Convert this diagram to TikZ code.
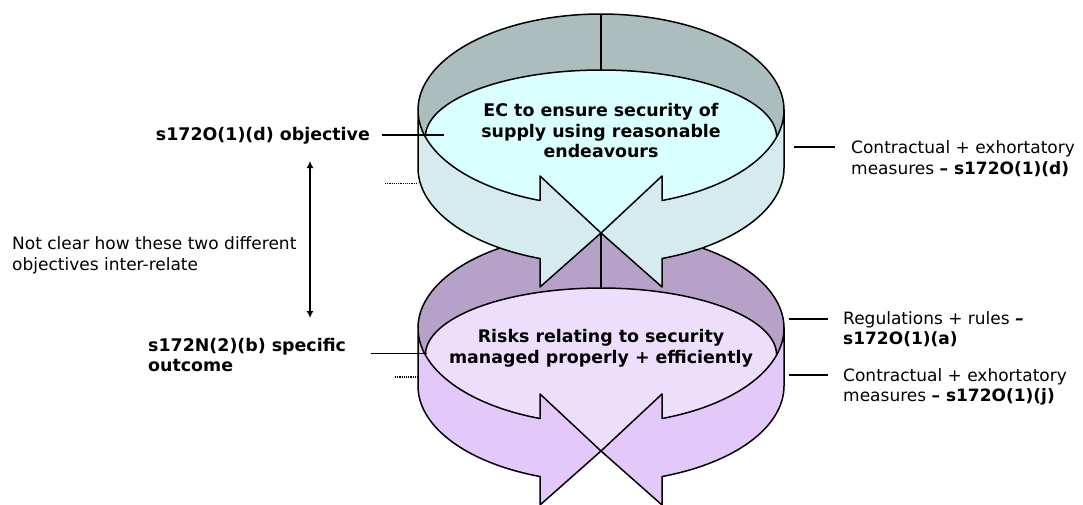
\documentclass[tikz,border=0pt]{standalone}
\usepackage{fontspec}
\setmainfont{DejaVu Sans}
\usetikzlibrary{arrows.meta}
\definecolor{faceA}{RGB}{172,189,190}
\definecolor{lensA}{RGB}{217,255,255}
\definecolor{bandA}{RGB}{214,235,237}
\definecolor{faceB}{RGB}{182,161,201}
\definecolor{lensB}{RGB}{237,223,252}
\definecolor{bandB}{RGB}{226,201,250}
\tikzset{
  ringline/.style={draw=black, line width=1.5pt, line join=round},
  leader/.style={draw=black, line width=1.2pt},
  dotline/.style={draw=black, line width=1.1pt, dash pattern=on 1.1pt off 1.1pt},
  lab/.style={inner sep=0pt, font=\fontsize{17}{20.5}\selectfont},
  labb/.style={inner sep=0pt, font=\fontsize{17.4}{20.5}\selectfont\bfseries},
}
% one ring: #1 vertical shift, #2 face colour, #3 lens colour, #4 band colour
\newcommand\myring[4]{%
\begin{scope}[shift={(0,#1)}]
  % top face
  \fill[#2] plot[domain=0:360, samples=120, variable=\t] ({601+183*cos(\t)},{110+96*sin(\t)}) -- cycle;
  \draw[ringline] plot[domain=180:360, samples=80, variable=\t] ({601+183*cos(\t)},{110+96*sin(\t)});
  % opening (lens) with the notch between the arrow heads
  \fill[#3] plot[domain=180:360, samples=80, variable=\t] ({601+175.6*cos(\t)},{137+67*sin(\t)})
     -- plot[domain=16.33:70.53, samples=30, variable=\t] ({601+183*cos(\t)},{110+96*sin(\t)})
     -- (662,176) -- (601,233) -- (540,176)
     -- plot[domain=109.47:163.67, samples=30, variable=\t] ({601+183*cos(\t)},{110+96*sin(\t)}) -- cycle;
  \draw[ringline] plot[domain=180:360, samples=80, variable=\t] ({601+175.6*cos(\t)},{137+67*sin(\t)});
  \draw[ringline, line width=1.8pt] (601,14) -- (601,70);
  % left arrow
  \filldraw[fill=#4, ringline] (418,110) -- (418,168)
     -- plot[domain=180:109.47, samples=40, variable=\t] ({601+183*cos(\t)},{168+96*sin(\t)})
     -- (540,287) -- (601,233) -- (540,176)
     -- plot[domain=109.47:180, samples=40, variable=\t] ({601+183*cos(\t)},{110+96*sin(\t)}) -- cycle;
  % right arrow
  \filldraw[fill=#4, ringline] (784,110) -- (784,168)
     -- plot[domain=0:70.53, samples=40, variable=\t] ({601+183*cos(\t)},{168+96*sin(\t)})
     -- (662,287) -- (601,233) -- (662,176)
     -- plot[domain=70.53:0, samples=40, variable=\t] ({601+183*cos(\t)},{110+96*sin(\t)}) -- cycle;
\end{scope}}
\begin{document}
\begin{tikzpicture}[x=1pt,y=-1pt]
\useasboundingbox (0,0) rectangle (1083,504);
\fill[white] (0,0) rectangle (1083,504);
\clip (0,0) rectangle (1083,504);

\myring{218}{faceB}{lensB}{bandB}
\myring{0}{faceA}{lensA}{bandA}

% centre texts
\node[labb, anchor=north, align=center] (ta) at (601,103.5) {EC to ensure security of\\supply using reasonable\\endeavours};
\node[labb, anchor=north, align=center] (tb) at (601,329.5) {Risks relating to security\\managed properly + efficiently};

% left labels
\node[labb, anchor=base east] (lo) at (370,140.5) {s172O(1)(d) objective};
\node[labb, anchor=north west, align=left] (ls) at (148,338) {s172N(2)(b) specific\\outcome};
\node[lab, anchor=north west, align=left] (nc) at (12,236.5) {Not clear how these two different\\objectives inter-relate};

% right labels
\node[lab, anchor=north west, align=left] (r1) at (851,140.5) {Contractual + exhortatory\\measures \textbf{– s172O(1)(d)}};
\node[lab, anchor=north west, align=left] (r2) at (843,311) {Regulations + rules \textbf{–}\\\textbf{s172O(1)(a)}};
\node[lab, anchor=north west, align=left] (r3) at (843,368) {Contractual + exhortatory\\measures \textbf{– s172O(1)(j)}};

% leader lines
\coordinate (l1a) at (382,135);
\coordinate (l1b) at (444,135);
\coordinate (l2a) at (371,353.5);
\coordinate (l2b) at (427,353.5);
\draw[leader] (l1a) -- (l1b);
\draw[leader] (l2a) -- (l2b);
\coordinate (r1a) at (794,147);
\coordinate (r2a) at (789,319);
\coordinate (r3a) at (789,375);
\draw[leader] (r1a) -- ([xshift=-16pt]r1.west |- r1a);
\draw[leader] (r2a) -- ([xshift=-15pt]r2.west |- r2a);
\draw[leader] (r3a) -- ([xshift=-15pt]r3.west |- r3a);

% dotted stubs
\coordinate (d1a) at (385,183.5);
\coordinate (d1b) at (418,183.5);
\coordinate (d2a) at (395,377);
\coordinate (d2b) at (418,377);
\draw[dotline] (d1a) -- (d1b);
\draw[dotline] (d2a) -- (d2b);

% double arrow
\coordinate (da) at (310,161);
\coordinate (db) at (310,318);
\draw[line width=1.3pt, {Latex[length=7pt,width=7pt]}-{Latex[length=7pt,width=7pt]}] (da) -- (db);
\end{tikzpicture}
\end{document}
